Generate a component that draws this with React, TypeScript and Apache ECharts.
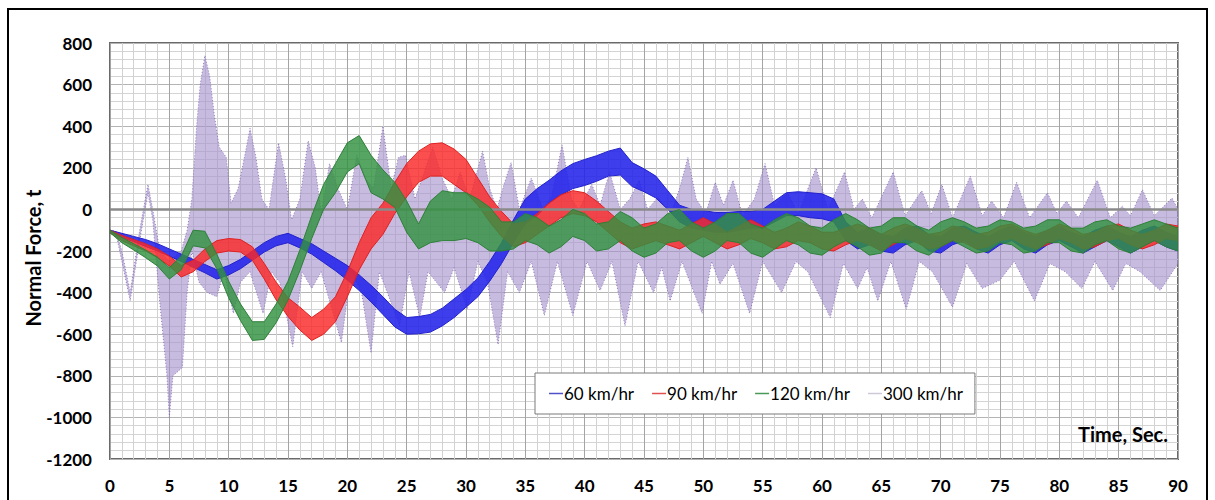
import React, { useEffect, useRef } from "react";
import * as echarts from "echarts";

// ---------- data ----------
// bands: [time s, lower envelope t, upper envelope t]
const band60: [number, number, number][] = [
  [0, -112, -100], [1, -135, -115], [2, -155, -130], [3, -178, -145], [4, -200, -165], [5, -225, -190],
  [6, -250, -215], [7, -278, -240], [8, -305, -265], [9, -335, -290], [10, -315, -270], [11, -285, -240],
  [12, -245, -200], [13, -205, -160], [14, -175, -130], [15, -160, -115], [16, -185, -140], [17, -215, -165],
  [18, -255, -200], [19, -295, -235], [20, -340, -270], [21, -390, -315], [22, -445, -365], [23, -505, -420],
  [24, -565, -480], [25, -600, -520], [26, -598, -515], [27, -590, -505], [28, -560, -475], [29, -520, -430],
  [30, -470, -385], [31, -420, -330], [32, -345, -250], [33, -260, -160], [34, -160, -50], [35, -70, 50],
  [36, -30, 100], [37, 30, 140], [38, 70, 185], [39, 100, 220], [40, 115, 240], [41, 135, 258],
  [42, 160, 280], [43, 165, 295], [44, 110, 225], [45, 85, 195], [46, 55, 160], [47, 0, 90],
  [48, -60, 20], [49, -90, 0], [50, -100, -5], [51, -110, -15], [52, -110, -15], [53, -100, -10],
  [54, -90, -10], [55, -90, 0], [56, -60, 40], [57, -30, 80], [58, -30, 85], [59, -40, 80],
  [60, -45, 75], [61, -60, 50], [62, -150, -60], [63, -190, -110], [64, -170, -90], [65, -200, -120],
  [66, -210, -130], [67, -170, -90], [68, -150, -80], [69, -200, -120], [70, -210, -130], [71, -170, -90],
  [72, -150, -80], [73, -190, -110], [74, -210, -130], [75, -170, -100], [76, -150, -80], [77, -190, -110],
  [78, -210, -130], [79, -170, -100], [80, -150, -80], [81, -180, -110], [82, -210, -130], [83, -180, -100],
  [84, -150, -80], [85, -180, -110], [86, -210, -130], [87, -180, -100], [88, -150, -80], [89, -180, -110],
  [90, -200, -130],
];

const band90: [number, number, number][] = [
  [0, -112, -100], [1, -150, -125], [2, -175, -145], [3, -200, -165], [4, -232, -190], [5, -272, -225],
  [6, -325, -270], [7, -300, -245], [8, -250, -190], [9, -210, -150], [10, -200, -140], [11, -205, -145],
  [12, -245, -180], [13, -335, -260], [14, -435, -350], [15, -515, -425], [16, -580, -470], [17, -630, -520],
  [18, -600, -480], [19, -540, -420], [20, -420, -300], [21, -290, -160], [22, -190, -40], [23, -120, 30],
  [24, -20, 130], [25, 60, 220], [26, 130, 280], [27, 160, 315], [28, 160, 320], [29, 120, 290],
  [30, 80, 240], [31, 20, 150], [32, -60, 60], [33, -130, -10], [34, -180, -70], [35, -160, -60],
  [36, -120, -20], [37, -80, 30], [38, -40, 70], [39, -20, 90], [40, -30, 80], [41, -60, 40],
  [42, -110, -10], [43, -160, -60], [44, -190, -90], [45, -170, -70], [46, -150, -60], [47, -170, -80],
  [48, -190, -100], [49, -160, -70], [50, -130, -40], [51, -160, -70], [52, -190, -110], [53, -170, -80],
  [54, -140, -50], [55, -160, -80], [56, -190, -110], [57, -180, -90], [58, -150, -60], [59, -160, -80],
  [60, -190, -110], [61, -200, -110], [62, -170, -90], [63, -150, -70], [64, -170, -90], [65, -200, -120],
  [66, -170, -90], [67, -140, -70], [68, -160, -90], [69, -190, -120], [70, -180, -110], [71, -150, -80],
  [72, -160, -90], [73, -190, -120], [74, -180, -110], [75, -150, -80], [76, -140, -70], [77, -170, -100],
  [78, -190, -120], [79, -170, -100], [80, -140, -70], [81, -160, -90], [82, -190, -120], [83, -180, -110],
  [84, -150, -80], [85, -140, -70], [86, -170, -100], [87, -190, -120], [88, -170, -100], [89, -140, -70],
  [90, -150, -80],
];

const band120: [number, number, number][] = [
  [0, -112, -100], [1, -160, -135], [2, -195, -165], [3, -232, -195], [4, -272, -230], [5, -335, -280],
  [6, -290, -225], [7, -175, -100], [8, -185, -105], [9, -285, -215], [10, -425, -345], [11, -535, -455],
  [12, -630, -540], [13, -625, -540], [14, -545, -455], [15, -435, -345], [16, -295, -195], [17, -140, -30],
  [18, 0, 120], [19, 80, 220], [20, 180, 320], [21, 220, 355], [22, 80, 260], [23, 50, 190],
  [24, 10, 130], [25, -110, 40], [26, -190, -70], [27, -160, 40], [28, -150, 90], [29, -150, 80],
  [30, -140, 80], [31, -160, 50], [32, -200, 10], [33, -200, -60], [34, -190, -60], [35, -150, -20],
  [36, -170, -40], [37, -210, -80], [38, -180, -50], [39, -130, 0], [40, -150, -20], [41, -200, -70],
  [42, -190, -60], [43, -150, -10], [44, -200, -40], [45, -230, -90], [46, -210, -70], [47, -160, -20],
  [48, -150, 0], [49, -200, -60], [50, -230, -90], [51, -200, -60], [52, -150, -20], [53, -160, -20],
  [54, -210, -70], [55, -230, -90], [56, -190, -50], [57, -150, -20], [58, -170, -40], [59, -210, -80],
  [60, -220, -90], [61, -180, -50], [62, -150, -20], [63, -180, -50], [64, -220, -90], [65, -210, -80],
  [66, -160, -40], [67, -160, -40], [68, -200, -80], [69, -220, -100], [70, -180, -60], [71, -150, -40],
  [72, -180, -60], [73, -210, -90], [74, -200, -80], [75, -160, -50], [76, -170, -60], [77, -210, -90],
  [78, -200, -80], [79, -160, -50], [80, -160, -50], [81, -200, -90], [82, -210, -90], [83, -170, -60],
  [84, -150, -50], [85, -190, -80], [86, -210, -90], [87, -180, -70], [88, -150, -50], [89, -180, -70],
  [90, -200, -90],
];

// 300 km/hr: upper and lower envelopes of the dotted trace: [time s, t]
const upper300: [number, number][] = [
  [0, -100], [0.5, -105], [1.0, -200], [1.7, -400], [2.5, -100], [3.2, 120], [3.6, 0], [4.2, -200],
  [5.0, -250], [6.0, -200], [6.5, -100], [6.9, 50], [7.3, 400], [7.6, 600], [8.0, 740], [8.4, 640],
  [8.8, 450], [9.2, 300], [9.8, 250], [10.2, 30], [10.8, 100], [11.5, 300], [11.8, 390], [12.3, 250],
  [12.8, 50], [13.4, 0], [14.2, 320], [14.8, 150], [15.3, -50], [16.0, 50], [16.7, 330], [17.3, 200],
  [17.8, -20], [18.5, 220], [19.2, 100], [20.0, 0], [20.8, 260], [21.5, 150], [22.2, 100], [23.0, 400],
  [23.7, 100], [24.3, 250], [24.9, 260], [25.7, 50], [26.3, 150], [27.2, 300], [28.0, 150], [28.8, 50],
  [29.5, 180], [30.3, 50], [31.4, 280], [32.0, 100], [32.6, 0], [33.2, 120], [33.8, 225], [34.5, 0],
  [35.5, 150], [36.5, 0], [37.2, 60], [38.1, 310], [38.9, 50], [39.5, 0], [40.6, 120], [41.3, 20],
  [42.1, 180], [43.0, 0], [43.8, 50], [44.6, 140], [45.3, 0], [46.2, 60], [47.2, -30], [48.0, 100],
  [48.7, 250], [49.4, 50], [50.2, -20], [51.0, 130], [51.7, 20], [52.5, 140], [53.3, -30], [54.3, 50],
  [55.2, 220], [56.0, 20], [57.1, 80], [58.0, -20], [59.5, 200], [60.5, 0], [61.9, 180], [62.7, 0],
  [63.4, 50], [64.2, -40], [66.0, 180], [67.0, -30], [68.4, 90], [69.2, -20], [70.1, 120], [71.0, -40],
  [72.5, 160], [73.5, -30], [74.3, 40], [75.3, -40], [76.4, 130], [77.5, -40], [79.0, 80], [79.8, -20],
  [80.6, 40], [81.6, -40], [83.2, 140], [84.3, -40], [85.3, 15], [86.0, -30], [87.0, 95], [88.0, -30],
  [89.5, 55], [90.0, 0],
];

const lower300: [number, number][] = [
  [0, -115], [0.5, -115], [1.0, -250], [1.7, -440], [2.5, -150], [3.2, 80], [3.6, -50], [4.2, -450],
  [4.8, -800], [5.0, -1000], [5.3, -800], [5.7, -780], [6.1, -760], [6.5, -400], [6.9, -200], [7.5, -350],
  [8.2, -400], [9.0, -420], [9.6, -300], [10.4, -500], [11.0, -350], [11.8, -300], [12.9, -500], [13.6, -300],
  [14.3, -350], [15.4, -660], [16.2, -300], [17.0, -380], [17.8, -300], [18.7, -480], [19.5, -640], [20.3, -300],
  [21.2, -400], [22.0, -690], [22.7, -300], [23.5, -420], [24.4, -560], [25.2, -300], [26.1, -520], [26.8, -300],
  [28.2, -400], [29.0, -280], [30.1, -480], [31.0, -250], [31.8, -350], [32.7, -650], [33.5, -300], [34.5, -400],
  [35.5, -250], [36.6, -510], [37.7, -250], [39.0, -510], [40.2, -250], [41.3, -390], [42.3, -250], [43.4, -560],
  [44.5, -250], [45.8, -400], [46.5, -280], [47.2, -440], [48.2, -250], [49.9, -500], [50.7, -250], [51.4, -360],
  [52.5, -260], [53.9, -500], [55.0, -250], [56.6, -400], [57.8, -250], [58.8, -300], [60.7, -520], [61.8, -260],
  [63.0, -380], [63.8, -280], [64.7, -440], [65.8, -250], [67.1, -480], [68.2, -250], [69.3, -300], [71.0, -470],
  [72.2, -260], [73.5, -380], [75.0, -340], [76.2, -250], [77.9, -440], [79.2, -260], [80.5, -300], [81.9, -380],
  [83.0, -250], [84.5, -390], [85.6, -260], [86.8, -300], [88.5, -390], [90.0, -260],
];

const seriesNames = ["60 km/hr", "90 km/hr", "120 km/hr", "300 km/hr"];
const xTicks = { min: 0, max: 90, step: 5 };
const yTicks = { min: -1200, max: 800, step: 200 };

const FONT = 'Lato, "Liberation Sans", "DejaVu Sans", sans-serif';

function bandSeries(
  name: string,
  upper: [number, number][],
  lower: [number, number][],
  fill: string,
  stroke: string,
  dashed: boolean,
  z: number
) {
  return {
    type: "custom",
    name,
    z,
    clip: true,
    data: upper,
    encode: { x: 0, y: 1 },
    renderItem: (params: any, api: any) => {
      if (params.dataIndex !== 0) return null;
      const pts = upper
        .map((p) => api.coord(p))
        .concat(lower.slice().reverse().map((p) => api.coord(p)));
      return {
        type: "polygon",
        shape: { points: pts },
        style: {
          fill,
          stroke,
          lineWidth: 1,
          lineDash: dashed ? [1, 2] : null,
        },
      };
    },
  };
}

export default function App() {
  const ref = useRef<HTMLDivElement>(null);

  useEffect(() => {
    if (!ref.current) return;
    const chart = echarts.init(ref.current, undefined, { renderer: "svg" });

    const split = (b: [number, number, number][]) => ({
      up: b.map((r) => [r[0], r[2]] as [number, number]),
      lo: b.map((r) => [r[0], r[1]] as [number, number]),
    });
    const s60 = split(band60);
    const s90 = split(band90);
    const s120 = split(band120);

    const purple = bandSeries(seriesNames[3], upper300, lower300, "rgba(165,145,205,0.62)", "rgba(130,105,180,0.85)", true, 2) as any;
    purple.markLine = {
      silent: true,
      symbol: "none",
      label: { show: false },
      lineStyle: { color: "#8a8a8a", width: 2.5, type: "solid" },
      data: [{ yAxis: 0 }],
    };

    const option: any = {
      animation: false,
      backgroundColor: "#fff",
      textStyle: { fontFamily: FONT },
      grid: {
        left: 110,
        right: 37,
        top: 43,
        bottom: 41,
        show: true,
        borderColor: "#6a6a6a",
        borderWidth: 2,
      },
      xAxis: {
        type: "value",
        min: xTicks.min,
        max: xTicks.max,
        interval: xTicks.step,
        axisLine: { show: false },
        axisTick: { show: false },
        axisLabel: { fontSize: 17, fontWeight: "bold", color: "#000", margin: 18, fontFamily: FONT },
        splitLine: { show: true, lineStyle: { color: "#a4a4a4", width: 1 } },
        minorTick: { show: false, splitNumber: 5 },
        minorSplitLine: { show: true, lineStyle: { color: "#d2d2d2", width: 1 } },
      },
      yAxis: {
        type: "value",
        min: yTicks.min,
        max: yTicks.max,
        interval: yTicks.step,
        axisLine: { show: false },
        axisTick: { show: false },
        axisLabel: {
          fontSize: 17,
          fontWeight: "bold",
          color: "#000",
          margin: 18,
          fontFamily: FONT,
          formatter: (v: number) => String(v),
        },
        splitLine: { show: true, lineStyle: { color: "#b4b4b4", width: 1 } },
        minorTick: { show: false, splitNumber: 5 },
        minorSplitLine: { show: true, lineStyle: { color: "#d4d4d4", width: 1 } },
      },
      legend: {
        left: 535,
        top: 373,
        backgroundColor: "#fff",
        borderColor: "#7a7a7a",
        borderWidth: 1,
        borderRadius: 0,
        padding: [12, 12, 12, 14],
        itemGap: 18,
        itemWidth: 14,
        itemHeight: 1.5,
        textStyle: { fontSize: 17, color: "#000", fontFamily: FONT, padding: [0, 0, 0, -4] },
        data: [
          { name: seriesNames[0], icon: "rect", itemStyle: { color: "#5050c8" } },
          { name: seriesNames[1], icon: "rect", itemStyle: { color: "#e05050" } },
          { name: seriesNames[2], icon: "rect", itemStyle: { color: "#4a9a55" } },
          { name: seriesNames[3], icon: "rect", itemStyle: { color: "#cfc8d8" } },
        ],
      },
      graphic: [
        {
          type: "rect",
          silent: true,
          shape: { x: 8, y: 9, width: 1199, height: 520 },
          style: { fill: "none", stroke: "#000", lineWidth: 2 },
          z: 10,
        },
        {
          type: "text",
          x: 33,
          y: 258,
          rotation: Math.PI / 2,
          style: {
            text: "Normal Force, t",
            font: `bold 20px ${FONT}`,
            fill: "#000",
            textAlign: "center",
            textVerticalAlign: "middle",
          },
        },
        {
          type: "text",
          x: 1168,
          y: 434,
          style: {
            text: "Time, Sec.",
            font: `bold 20px ${FONT}`,
            fill: "#000",
            textAlign: "right",
            textVerticalAlign: "middle",
          },
          z: 10,
        },
      ],
      series: [
        purple,
        bandSeries(seriesNames[0], s60.up, s60.lo, "rgba(35,35,235,0.88)", "#2222cc", false, 3),
        bandSeries(seriesNames[1], s90.up, s90.lo, "rgba(250,40,40,0.82)", "#e02020", false, 4),
        bandSeries(seriesNames[2], s120.up, s120.lo, "rgba(50,145,65,0.82)", "#2e8038", false, 5),
      ],
    };

    chart.setOption(option);
    return () => chart.dispose();
  }, []);

  return (
    <div
      ref={ref}
      style={{ position: "fixed", left: 0, top: 0, width: 1215, height: 500, background: "#fff" }}
    />
  );
}
